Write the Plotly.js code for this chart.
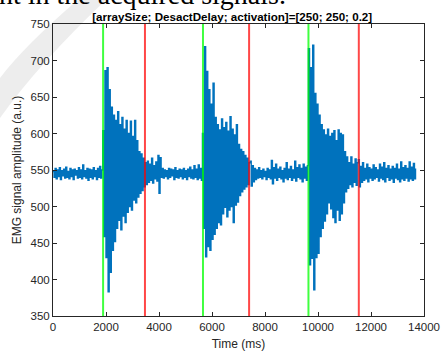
<!DOCTYPE html>
<html>
<head>
<meta charset="utf-8">
<script src="https://cdn.plot.ly/plotly-3.0.1.min.js"></script>
<style>html,body{margin:0;padding:0;background:#fff;}#chart{width:441px;height:351px;}</style>
</head>
<body>
<div id="chart"></div>
<script>
// sampling interval of the EMG record (ms)
const sampleStepMs = 40;

// EMG signal amplitude (a.u.), consecutive segments
const rest1 = [548,540,552,538,550,541,553,537,549,542,551,539,554,540,548,538,552,541,550,537,551,543,549,539,553,540,550,538,557,541,549,539,552,536,551,540,550,538,553,541,549,537,552,540,555,539,550];
const burst1 = [604,459,686,430,690,383,660,410,636,440,625,452,618,470,630,481,612,468,622,487,606,478,618,492,600,500,617,495,596,509,618,505,590,513,575,518,572,522,566,527];
const rest2 = [560,530,562,533,558,536,566,532,556,538,561,535,570,518,567,540,552,539,550,541,549,538,552,540,551,542,550,537,553,540,549,539,551,541,550,538,552,540,549,537,551,541,554,539,550,538,556,540,551,537,557,539,552,536];
const burst2 = [600,470,719,431,685,445,660,440,640,455,669,462,622,470,612,478,605,475,620,490,608,499,615,486,603,495,623,500,606,478,598,502,612,506,585,515,578,520,575,524,570,527,566,530,560];
const rest3 = [562,528,556,534,552,537,550,539,553,540,549,538,551,541,548,537,552,540,550,538,563,531,553,539,558,536,551,540,554,538,549,534,552,539,560,537,551,540,555,536,550,539,562,535,553,540,557,538,552,534,558,539,554,536,556];
const burst3 = [716,420,690,429,721,386,655,430,640,436,625,459,612,470,605,480,598,490,606,505,596,497,600,485,604,478,590,495,605,481,600,490,598,505,575,520,568,525,560,530,568,527,558,533,565,529,560];
const rest4 = [564,527,555,533,560,536,552,538,558,534,553,539,551,536,557,538,553,540,550,535,558,539,554,537,560,534,552,540,556,536,551,538,555,533,552,539,558,537,551,534,561,538,553,536,556,539,552,535,561,538,554,536,559,538,552];

// event markers (ms)
const activationTimes = [1890, 5660, 9640];
const deactivationTimes = [3470, 7400, 11540];

// axis ticks
const xTicks = [0,2000,4000,6000,8000,10000,12000,14000];
const yTicks = [350,400,450,500,550,600,650,700,750];

const titleText = '[arraySize; DesactDelay; activation]=[250; 250; 0.2]';
const xTitle = 'Time (ms)';
const yTitle = 'EMG signal amplitude (a.u.)';
const pageText = 'nt in the acquired signals.';

const signal = [].concat(rest1, burst1, rest2, burst2, rest3, burst3, rest4);
const time = signal.map((_, i) => i * sampleStepMs);

const traces = [{
  x: time, y: signal, type: 'scatter', mode: 'lines',
  line: {color: '#0072BD', width: 1.4, shape: 'hv'}, hoverinfo: 'skip', showlegend: false
}];
activationTimes.forEach(t => traces.push({
  x: [t, t], y: [350, 750], type: 'scatter', mode: 'lines',
  line: {color: 'rgba(0,255,0,0.75)', width: 2}, showlegend: false, hoverinfo: 'skip'
}));
deactivationTimes.forEach(t => traces.push({
  x: [t, t], y: [350, 750], type: 'scatter', mode: 'lines',
  line: {color: 'rgba(255,0,0,0.72)', width: 2}, showlegend: false, hoverinfo: 'skip'
}));

// pixel -> paper helpers for the faint background swoosh
const L = 53, R = 424, T = 24, B = 316;
const px = x => ((x - L) / (R - L)).toFixed(4);
const py = y => ((B - y) / (B - T)).toFixed(4);
const swoosh = `M ${px(0)},${py(118)} Q ${px(40)},${py(62)} ${px(108)},${py(-2)} L ${px(80)},${py(-2)} Q ${px(25)},${py(45)} ${px(0)},${py(78)} Z`;

const axisCommon = {
  showline: true, mirror: 'ticks', linecolor: '#262626', linewidth: 1,
  ticks: 'inside', ticklen: 4, tickcolor: '#262626', tickwidth: 1,
  showgrid: false, zeroline: false,
  tickfont: {family: 'Liberation Sans, Arial, sans-serif', size: 11.5, color: '#262626'}
};

const layout = {
  width: 441, height: 351,
  margin: {l: L, r: 441 - R, t: T, b: 351 - B, pad: 0},
  paper_bgcolor: '#ffffff', plot_bgcolor: 'rgba(0,0,0,0)',
  showlegend: false,
  xaxis: Object.assign({}, axisCommon, {
    range: [0, 14000], tickmode: 'array', tickvals: xTicks, ticktext: xTicks.map(String),
    title: {text: xTitle, standoff: 8, font: {family: 'Liberation Sans, Arial, sans-serif', size: 12, color: '#262626'}}
  }),
  yaxis: Object.assign({}, axisCommon, {
    range: [350, 750], tickmode: 'array', tickvals: yTicks, ticktext: yTicks.map(String),
    title: {text: yTitle, standoff: 6, font: {family: 'Liberation Sans, Arial, sans-serif', size: 12, color: '#262626'}}
  }),
  title: {
    text: '<b>' + titleText + '</b>',
    font: {family: 'Liberation Sans, Arial, sans-serif', size: 11.6, color: '#000'},
    x: 213 / 441, xanchor: 'center', y: 1 - 16.5 / 351, yanchor: 'middle', xref: 'paper'
  },
  shapes: [{
    type: 'path', path: swoosh, xref: 'paper', yref: 'paper', layer: 'below',
    fillcolor: 'rgba(190,190,190,0.28)', line: {width: 0}
  }],
  annotations: [{
    text: pageText, xref: 'paper', yref: 'paper', x: px(-3), y: py(12),
    xanchor: 'left', yanchor: 'bottom', showarrow: false,
    font: {family: 'Liberation Serif, Times New Roman, serif', size: 28, color: '#000'}
  }]
};

Plotly.newPlot('chart', traces, layout, {displayModeBar: false, staticPlot: true});
</script>
</body>
</html>
